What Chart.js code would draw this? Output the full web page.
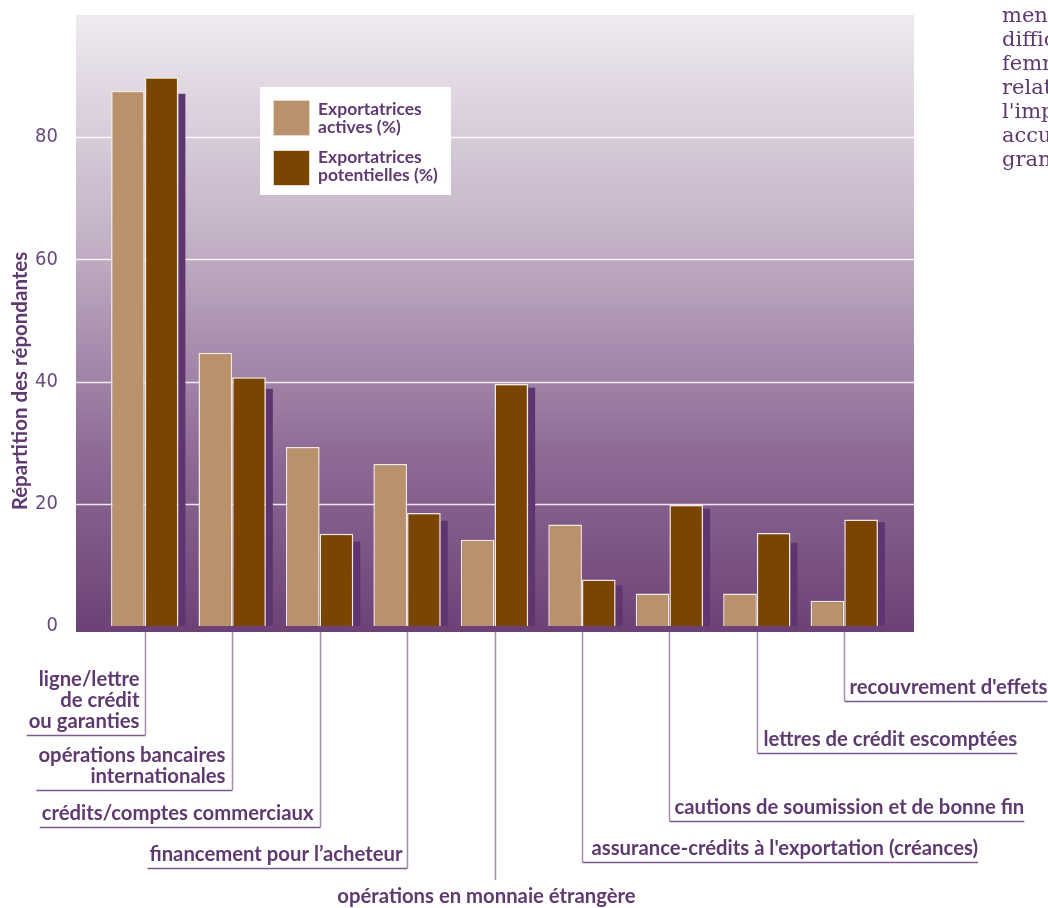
<!DOCTYPE html>
<html>
<head>
<meta charset="utf-8">
<script src="https://cdn.jsdelivr.net/npm/chart.js@4/dist/chart.umd.min.js"></script>
<style>
    body { margin: 0; background: #fff; }
    #wrap { position: relative; width: 1048px; height: 908px; overflow: hidden; }
    #side {
        position: absolute; left: 1002px; top: 3px;
        font-family: "DejaVu Serif", "Liberation Serif", serif;
        font-size: 21px; line-height: 24px; color: #5f3a70;
        white-space: pre;
    }
</style>
</head>
<body>
<div id="wrap">
    <canvas id="myChart" width="1048" height="908"></canvas>
    <div id="side">men
diffic
femm
relat
l'imp
accu
gran</div>
</div>
<script>
let categories = [
    ['ligne/lettre', 'de crédit', 'ou garanties'],
    ['opérations bancaires', 'internationales'],
    ['crédits/comptes commerciaux'],
    ['financement pour l\u2019acheteur'],
    ['opérations en monnaie étrangère'],
    ['assurance-crédits à l\'exportation (créances)'],
    ['cautions de soumission et de bonne fin'],
    ['lettres de crédit escomptées'],
    ['recouvrement d\'effets']
]
let activeValues = [87.6, 44.7, 29.3, 26.5, 14.1, 16.6, 5.3, 5.3, 4.1]
let potentialValues = [89.8, 40.7, 15.1, 18.5, 39.6, 7.6, 19.8, 15.2, 17.4]
// height of the purple drop shadow behind the dark bars
let shadowValues = [87.1, 38.8, 13.8, 17.2, 39.0, 6.6, 19.2, 13.6, 17.0]
let yTicks = [0, 20, 40, 60, 80]
let seriesNames = [['Exportatrices', 'actives (%)'], ['Exportatrices', 'potentielles (%)']]

// where each category label sits under the plot (not data)
let labelLayout = [
    {align: 'right', underline: 735, gap: 6},
    {align: 'right', underline: 790, gap: 7},
    {align: 'right', underline: 827, gap: 7},
    {align: 'right', underline: 868, gap: 5},
    {align: 'center', underline: 880, gap: -9},
    {align: 'left', underline: 862, gap: 9},
    {align: 'left', underline: 821, gap: 5},
    {align: 'left', underline: 753, gap: 6},
    {align: 'left', underline: 701, gap: 5}
]

let purple = '#5f3a70'
let tan = '#b9916a'
let brown = '#7a4500'
let labelFont = 'bold 20.3px Lato, "Open Sans", sans-serif'

let decorPlugin = {
    id: 'decor',
    beforeDatasetsDraw(chart){
        let ctx = chart.ctx
        let area = chart.chartArea
        let y = chart.scales.y
        let left = area.left - 25
        let right = area.right + 26

        // gradient plot background
        let grad = ctx.createLinearGradient(0, area.top, 0, area.bottom)
        grad.addColorStop(0, '#efeaf0')
        grad.addColorStop(0.35, '#c5b4c8')
        grad.addColorStop(0.7, '#8f6d97')
        grad.addColorStop(1, '#6c4276')
        ctx.save()
        ctx.fillStyle = grad
        ctx.fillRect(left, area.top, right - left, area.bottom - area.top)

        // grid lines
        ctx.strokeStyle = 'rgba(255,255,255,0.85)'
        ctx.lineWidth = 1.5
        for (let i = 0; i < yTicks.length; i++){
            if (yTicks[i] === 0) continue
            let py = Math.round(y.getPixelForValue(yTicks[i])) + 0.5
            ctx.beginPath()
            ctx.moveTo(left, py)
            ctx.lineTo(right, py)
            ctx.stroke()
        }

        // drop shadows next to the dark bars
        let meta = chart.getDatasetMeta(1)
        ctx.fillStyle = '#5e3570'
        for (let i = 0; i < meta.data.length; i++){
            let bar = meta.data[i]
            let top = y.getPixelForValue(shadowValues[i])
            let bottom = y.getPixelForValue(0)
            ctx.fillRect(bar.x + bar.width / 2, top, 7, bottom - top)
        }
        ctx.restore()
    },
    afterDraw(chart){
        let ctx = chart.ctx
        let area = chart.chartArea
        let x = chart.scales.x

        // y axis title
        ctx.save()
        ctx.fillStyle = purple
        ctx.font = 'bold 20.5px Lato, "Open Sans", sans-serif'
        ctx.textAlign = 'center'
        ctx.textBaseline = 'middle'
        ctx.translate(20, 381)
        ctx.rotate(-Math.PI / 2)
        ctx.fillText('Répartition des répondantes', 0, 0)
        ctx.restore()

        ctx.save()
        // category labels with leader lines
        ctx.font = labelFont
        ctx.textBaseline = 'alphabetic'
        for (let i = 0; i < categories.length; i++){
            let lines = categories[i]
            let lay = labelLayout[i]
            let lx = Math.round(x.getPixelForValue(i)) + 0.5
            let widest = 0
            for (let j = 0; j < lines.length; j++){
                widest = Math.max(widest, ctx.measureText(lines[j]).width)
            }

            ctx.strokeStyle = '#a48bb0'
            ctx.lineWidth = 1.5
            ctx.beginPath()
            ctx.moveTo(lx, area.bottom)
            ctx.lineTo(lx, lay.underline)
            ctx.stroke()

            ctx.fillStyle = purple
            if (lay.align === 'center'){
                ctx.textAlign = 'center'
                ctx.fillText(lines[0], lx + lay.gap, lay.underline + 23)
                continue
            }

            let baseline = lay.underline - 7 - (lines.length - 1) * 21
            let tx = lay.align === 'right' ? lx - lay.gap : lx + lay.gap
            ctx.textAlign = lay.align
            for (let j = 0; j < lines.length; j++){
                ctx.fillText(lines[j], tx, baseline + j * 21)
            }

            ctx.strokeStyle = '#7d5a8c'
            ctx.beginPath()
            if (lay.align === 'right'){
                ctx.moveTo(tx - widest - 2, lay.underline + 0.5)
            } else {
                ctx.moveTo(tx + widest, lay.underline + 0.5)
            }
            ctx.lineTo(lx, lay.underline + 0.5)
            ctx.stroke()
        }

        // legend box
        ctx.fillStyle = '#ffffff'
        ctx.fillRect(260, 87, 191, 108)
        let swatches = [tan, brown]
        ctx.textAlign = 'left'
        for (let i = 0; i < seriesNames.length; i++){
            let top = 100 + i * 50
            ctx.fillStyle = swatches[i]
            ctx.fillRect(273, top, 37, 36)
            ctx.strokeStyle = '#e6d8c8'
            ctx.lineWidth = 1
            ctx.strokeRect(273.5, top + 0.5, 36, 35)
            ctx.fillStyle = purple
            ctx.font = 'bold 17.5px Lato, "Open Sans", sans-serif'
            ctx.fillText(seriesNames[i][0], 318, top + 15 - i * 2)
            ctx.fillText(seriesNames[i][1], 318, top + 33 - i * 2)
        }
        ctx.restore()
    }
}

createChart()

function createChart(){
    let ctx = document.getElementById('myChart').getContext('2d')
    new Chart(ctx, {
        type: 'bar',
        data: {
            labels: categories.map(c => c.join(' ')),
            datasets: [{
                label: seriesNames[0].join(' '),
                data: activeValues,
                backgroundColor: tan,
                borderColor: '#f3e9dc',
                borderWidth: 1.5
            }, {
                label: seriesNames[1].join(' '),
                data: potentialValues,
                backgroundColor: brown,
                borderColor: '#f3e9dc',
                borderWidth: 1.5
            }]
        },
        options: {
            responsive: false,
            animation: false,
            layout: {
                padding: {left: 0, top: 15, right: 160, bottom: 276}
            },
            datasets: {
                bar: {categoryPercentage: 0.77, barPercentage: 1.0}
            },
            plugins: {
                legend: {display: false},
                tooltip: {enabled: false}
            },
            scales: {
                x: {
                    display: false
                },
                y: {
                    min: -1,
                    max: 100,
                    afterBuildTicks: function(scale){
                        scale.ticks = yTicks.map(v => ({value: v}))
                    },
                    afterFit: function(scale){
                        scale.width = 101
                        scale.paddingTop = 0
                        scale.paddingBottom = 0
                    },
                    grid: {display: false},
                    border: {display: false},
                    ticks: {
                        padding: 35,
                        color: '#6b4a80',
                        font: {family: '"Liberation Sans Narrow", "DejaVu Sans Condensed", "Liberation Sans", sans-serif', size: 20}
                    }
                }
            }
        },
        plugins: [decorPlugin]
    })
}
</script>
</body>
</html>
